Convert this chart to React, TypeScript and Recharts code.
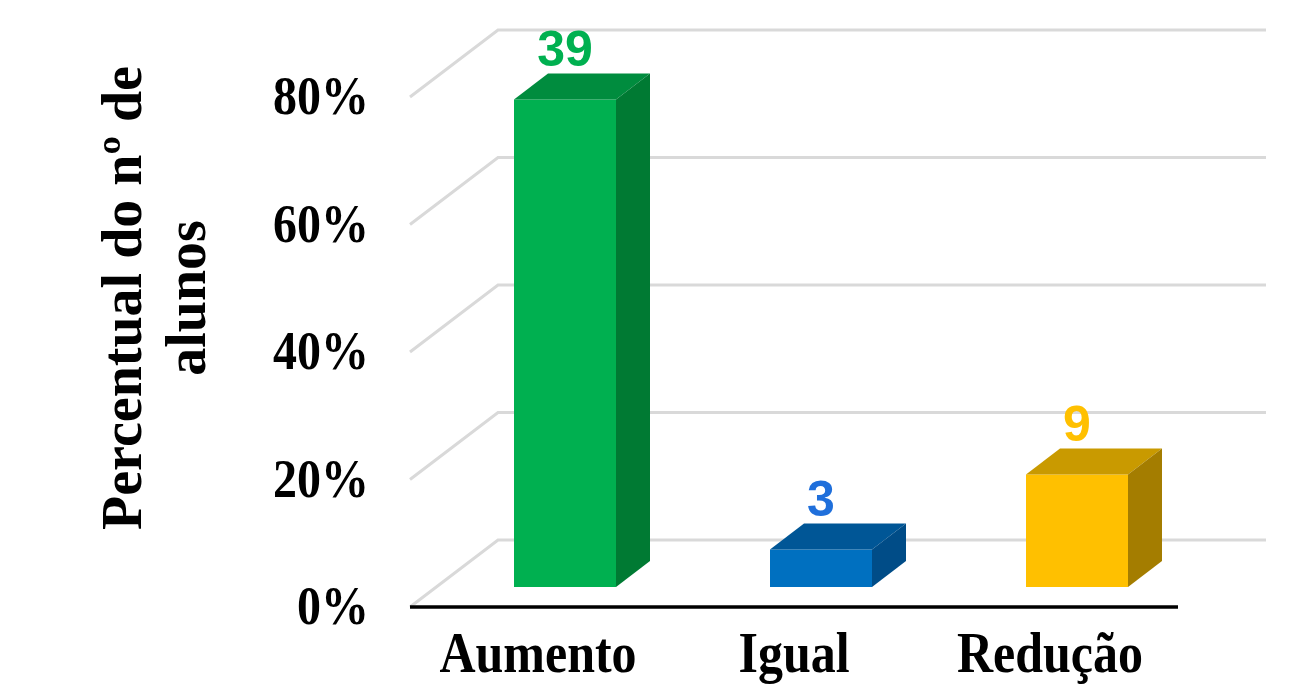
import { BarChart, Bar, XAxis, YAxis, CartesianGrid, LabelList, Label } from 'recharts'

// respostas por categoria (nº de alunos)
const categories = ['Aumento', 'Igual', 'Redução']
const counts = [39, 3, 9]
const yTicks = [0, 0.2, 0.4, 0.6, 0.8]

// [frente, topo, lateral, rótulo]
const BAR_COLORS = [
  ['#00B050', '#008C3E', '#007A33', '#00B050'],
  ['#0070C0', '#005696', '#004C87', '#1F6FDB'],
  ['#FFC000', '#C99A00', '#A47D00', '#FFC000'],
]

const W = 1292
const H = 690

// profundidade da parede do fundo e posição das barras no "chão"
const WALL_DX = 88
const WALL_DY = -67
const BAR_DX = 27
const BAR_DY = -20
const BOX_DX = 34
const BOX_DY = -26

const SERIF = '"Liberation Serif", "Times New Roman", serif'
const SANS = '"Liberation Sans", Arial, sans-serif'

const total = counts.reduce((s, c) => s + c, 0)
const data = categories.map((name, i) => ({ name, count: counts[i], share: counts[i] / total }))

function Box3D(props: any) {
  const { x, y, width, height, index } = props
  const [front, top, side] = BAR_COLORS[index]
  const fx = x + BAR_DX
  const fy = y + BAR_DY
  const r = fx + width
  const b = fy + height
  return (
    <g>
      <rect x={fx} y={fy} width={width} height={height} fill={front} />
      <polygon points={`${fx},${fy} ${fx + BOX_DX},${fy + BOX_DY} ${r + BOX_DX},${fy + BOX_DY} ${r},${fy}`} fill={top} />
      <polygon points={`${r},${fy} ${r + BOX_DX},${fy + BOX_DY} ${r + BOX_DX},${b + BOX_DY} ${r},${b}`} fill={side} />
    </g>
  )
}

function WallLine(props: any) {
  const { x1, x2, y1 } = props
  return (
    <path
      key={props.key ?? `${y1}`}
      d={`M${x1},${y1} L${x1 + WALL_DX},${y1 + WALL_DY} L${x2 + WALL_DX},${y1 + WALL_DY}`}
      fill="none"
      stroke="#D9D9D9"
      strokeWidth={3}
    />
  )
}

function ValueLabel(props: any) {
  const { x, y, width, value, index } = props
  return (
    <text
      x={x + BAR_DX + width / 2}
      y={y + BAR_DY - 34}
      textAnchor="middle"
      fill={BAR_COLORS[index][3]}
      fontFamily={SANS}
      fontWeight="bold"
      fontSize={50}
    >
      {value}
    </text>
  )
}

function YTick(props: any) {
  const { x, y, payload } = props
  return (
    <text
      transform={`translate(${x},${y + 17}) scale(1,1.15)`}
      textAnchor="end"
      fontFamily={SERIF}
      fontWeight="bold"
      fontSize={48}
      fill="#000"
    >
      {`${Math.round(payload.value * 100)}%`}
    </text>
  )
}

function XTick(props: any) {
  const { x, y, payload } = props
  return (
    <text
      transform={`translate(${x},${y + 65}) scale(1,1.15)`}
      textAnchor="middle"
      fontFamily={SERIF}
      fontWeight="bold"
      fontSize={50}
      fill="#000"
    >
      {payload.value}
    </text>
  )
}

function AxisTitle() {
  return (
    <g fontFamily={SERIF} fontWeight="bold" fontSize={56} fill="#000" textAnchor="middle">
      <text transform="translate(141,298) rotate(-90)">Percentual do nº de</text>
      <text transform="translate(205,298) rotate(-90)">alunos</text>
    </g>
  )
}

export default function App() {
  return (
    <div style={{ position: 'absolute', left: 0, top: 0, width: W, height: H, background: '#fff' }}>
      <BarChart width={W} height={H} data={data} margin={{ top: 97, right: 114, bottom: 0, left: 310 }}>
        <CartesianGrid vertical={false} horizontal={(p: any) => <WallLine {...p} />} />
        <XAxis
          dataKey="name"
          height={83}
          tickSize={0}
          tickMargin={0}
          tick={<XTick />}
          axisLine={{ stroke: '#000', strokeWidth: 3.5 }}
          tickLine={false}
        />
        <YAxis
          width={100}
          domain={[0, 0.8]}
          ticks={yTicks}
          tickSize={0}
          tickMargin={41}
          tick={<YTick />}
          axisLine={false}
          tickLine={false}
        >
          <Label content={() => <AxisTitle />} />
        </YAxis>
        <Bar dataKey="share" barSize={102} shape={<Box3D />} isAnimationActive={false}>
          <LabelList dataKey="count" content={<ValueLabel />} />
        </Bar>
      </BarChart>
    </div>
  )
}
